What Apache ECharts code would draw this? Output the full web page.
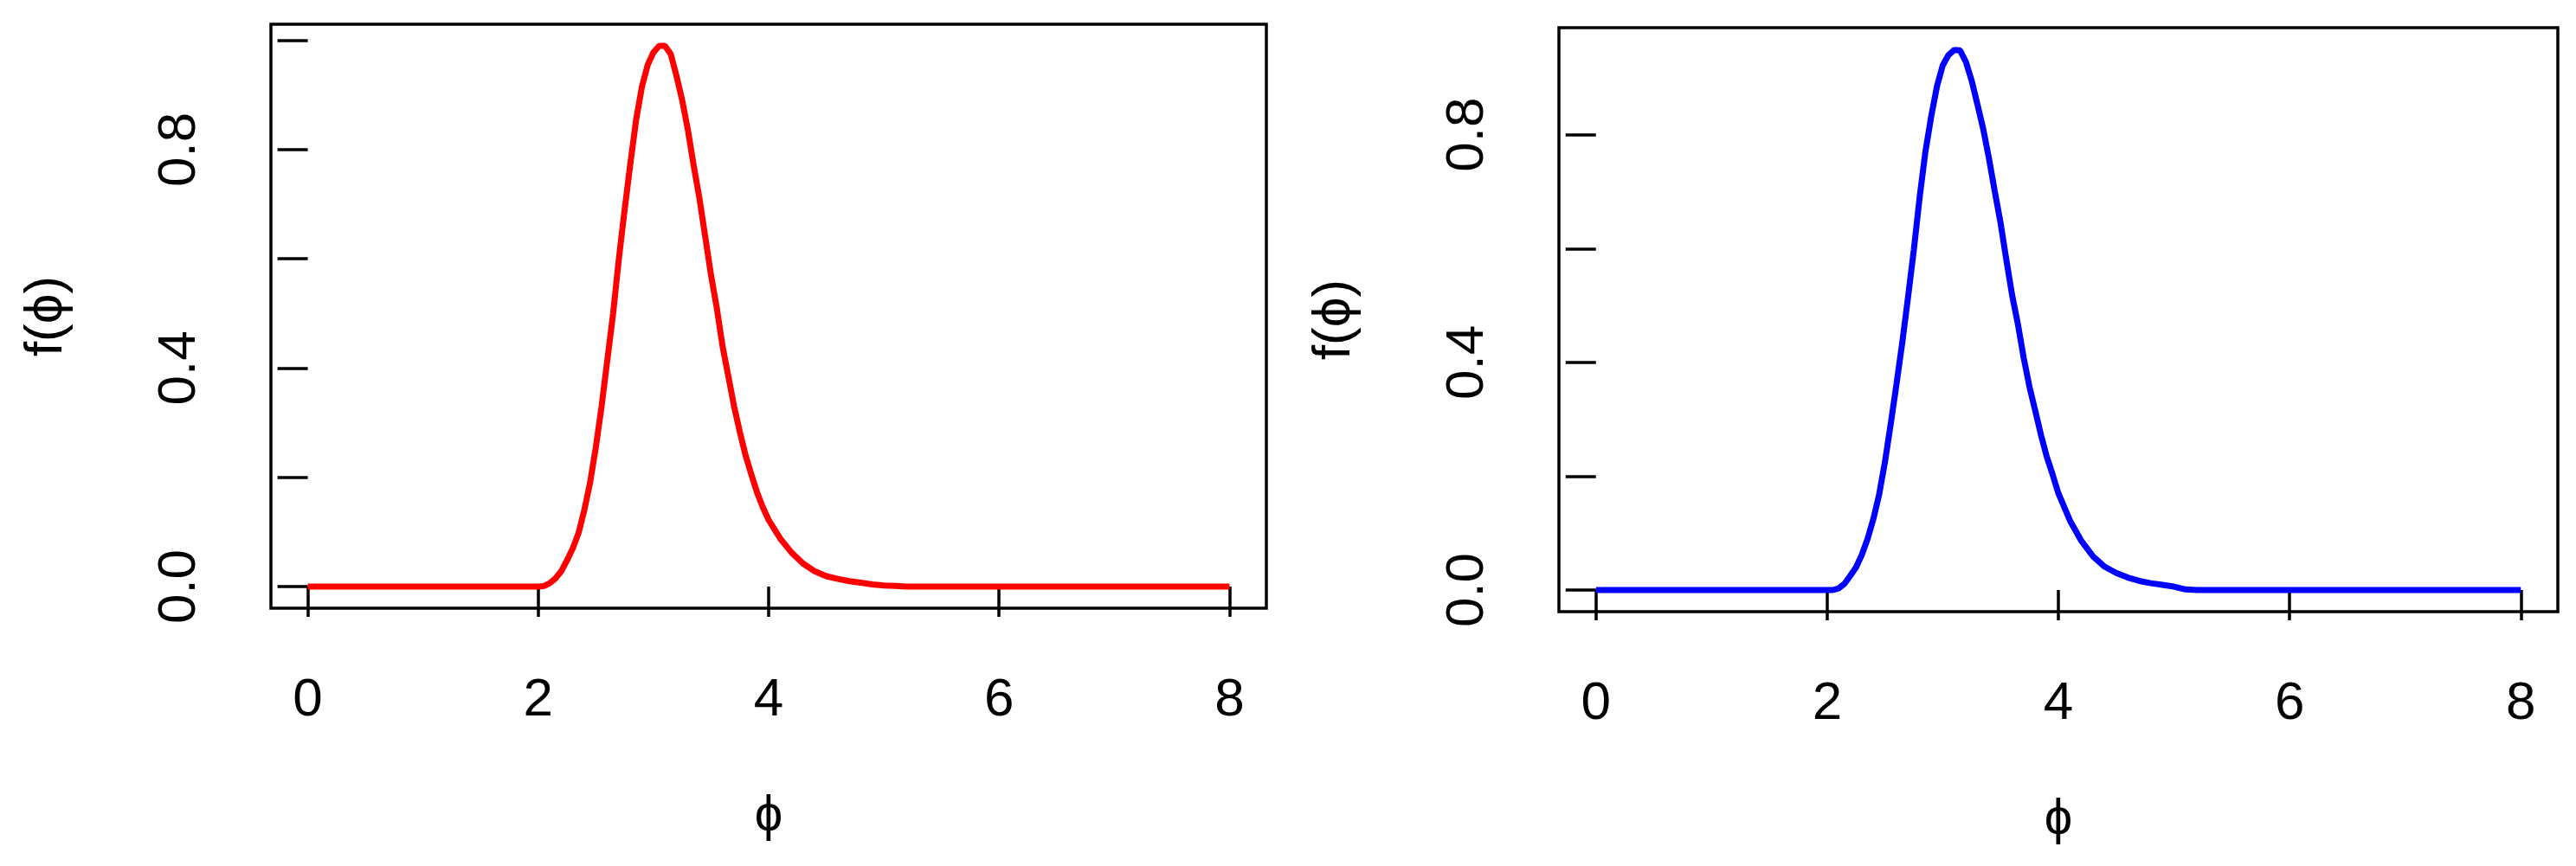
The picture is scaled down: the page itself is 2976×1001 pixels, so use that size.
<!DOCTYPE html>
<html>
<head>
<meta charset="utf-8">
<script src="https://cdn.jsdelivr.net/npm/echarts@6/dist/echarts.min.js"></script>
<style>
html,body{margin:0;padding:0;background:#fff;}
#chart{width:2976px;height:1001px;}
</style>
</head>
<body>
<div id="chart"></div>
<script>
// ---- data ----
const phiRed = [0, 2.00, 2.05, 2.10, 2.15, 2.20, 2.25, 2.30, 2.35, 2.40, 2.45, 2.50, 2.55, 2.60, 2.65, 2.70, 2.75, 2.80, 2.85, 2.90, 2.95, 3.00, 3.05, 3.10, 3.15, 3.20, 3.25, 3.30, 3.35, 3.40, 3.45, 3.50, 3.55, 3.60, 3.65, 3.70, 3.75, 3.80, 3.85, 3.90, 3.95, 4.00, 4.10, 4.20, 4.30, 4.40, 4.50, 4.60, 4.70, 4.80, 4.90, 5.00, 5.10, 5.20, 8];
const densRed = [0, 0, 0.001, 0.006, 0.015, 0.028, 0.048, 0.070, 0.098, 0.140, 0.190, 0.255, 0.330, 0.415, 0.500, 0.600, 0.690, 0.775, 0.855, 0.915, 0.955, 0.978, 0.990, 0.990, 0.975, 0.935, 0.890, 0.835, 0.770, 0.710, 0.640, 0.570, 0.510, 0.440, 0.385, 0.330, 0.283, 0.240, 0.205, 0.172, 0.145, 0.122, 0.088, 0.062, 0.042, 0.028, 0.019, 0.014, 0.010, 0.007, 0.004, 0.002, 0.001, 0, 0];

const phiBlue = [0, 2.05, 2.10, 2.15, 2.20, 2.25, 2.30, 2.35, 2.40, 2.45, 2.50, 2.55, 2.60, 2.65, 2.70, 2.75, 2.80, 2.85, 2.90, 2.95, 3.00, 3.05, 3.10, 3.15, 3.20, 3.25, 3.30, 3.35, 3.40, 3.45, 3.50, 3.55, 3.60, 3.65, 3.70, 3.75, 3.80, 3.85, 3.90, 3.95, 4.00, 4.10, 4.20, 4.30, 4.40, 4.50, 4.60, 4.70, 4.80, 4.90, 5.00, 5.10, 5.20, 8];
const densBlue = [0, 0, 0.003, 0.011, 0.025, 0.040, 0.062, 0.090, 0.125, 0.168, 0.225, 0.292, 0.362, 0.435, 0.515, 0.598, 0.690, 0.770, 0.832, 0.885, 0.922, 0.940, 0.949, 0.948, 0.928, 0.895, 0.853, 0.810, 0.758, 0.700, 0.645, 0.580, 0.518, 0.467, 0.408, 0.357, 0.315, 0.272, 0.234, 0.203, 0.170, 0.122, 0.086, 0.059, 0.041, 0.030, 0.022, 0.016, 0.012, 0.009, 0.006, 0.001, 0, 0];

const xTicks = [0, 2, 4, 6, 8];
const yTicksLeft = [0, 0.2, 0.4, 0.6, 0.8, 1.0];
const yTicksRight = [0, 0.2, 0.4, 0.6, 0.8];
const yLabelVals = [0, 0.4, 0.8];
const xName = 'ϕ';
const yName = 'f(ϕ)';

// ---- chart ----
const FONT = '"Liberation Sans", Arial, "DejaVu Sans", sans-serif';
const FS = 62;
const chart = echarts.init(document.getElementById('chart'), null, {renderer: 'canvas'});

function pairs(xs, ys) { return xs.map((x, i) => [x, ys[i]]); }

function xAxisDef(gi) {
  return {
    gridIndex: gi, type: 'value', min: -0.32, max: 8.32,
    name: xName, nameLocation: 'middle', nameGap: 212,
    nameTextStyle: {fontFamily: FONT, fontSize: 58, color: '#000'},
    axisLine: {show: false},
    axisTick: {show: true, inside: false, length: 35, customValues: xTicks,
      lineStyle: {color: '#000', width: 3.5}},
    axisLabel: {show: true, margin: 76, customValues: xTicks,
      fontFamily: FONT, fontSize: FS, color: '#000',
      formatter: v => String(Math.round(v))},
    splitLine: {show: false}
  };
}
function yAxisDef(gi, min, max, ticks) {
  return {
    gridIndex: gi, type: 'value', min: min, max: max,
    name: yName, nameLocation: 'middle', nameGap: 228, nameRotate: 90,
    nameTextStyle: {fontFamily: FONT, fontSize: FS, color: '#000'},
    axisLine: {show: false},
    axisTick: {show: true, inside: false, length: 35, customValues: ticks,
      lineStyle: {color: '#000', width: 3.5}},
    axisLabel: {show: true, margin: 74, rotate: 90, customValues: yLabelVals,
      fontFamily: FONT, fontSize: FS, color: '#000',
      formatter: v => v.toFixed(1)},
    splitLine: {show: false}
  };
}

const option = {
  animation: false,
  backgroundColor: '#fff',
  grid: [
    {left: 313, top: 28, width: 1150, height: 675, show: true, borderColor: '#000', borderWidth: 3.5, backgroundColor: 'transparent'},
    {left: 1801, top: 32, width: 1154, height: 675, show: true, borderColor: '#000', borderWidth: 3.5, backgroundColor: 'transparent'}
  ],
  xAxis: [xAxisDef(0), xAxisDef(1)],
  yAxis: [
    yAxisDef(0, -0.0396, 1.0296, yTicksLeft),
    yAxisDef(1, -0.038, 0.988, yTicksRight)
  ],
  series: [
    {type: 'line', xAxisIndex: 0, yAxisIndex: 0, data: pairs(phiRed, densRed),
      showSymbol: false, symbol: 'none', lineStyle: {color: '#ff0000', width: 7}},
    {type: 'line', xAxisIndex: 1, yAxisIndex: 1, data: pairs(phiBlue, densBlue),
      showSymbol: false, symbol: 'none', lineStyle: {color: '#0000ff', width: 7}}
  ]
};
chart.setOption(option);
</script>
</body>
</html>
